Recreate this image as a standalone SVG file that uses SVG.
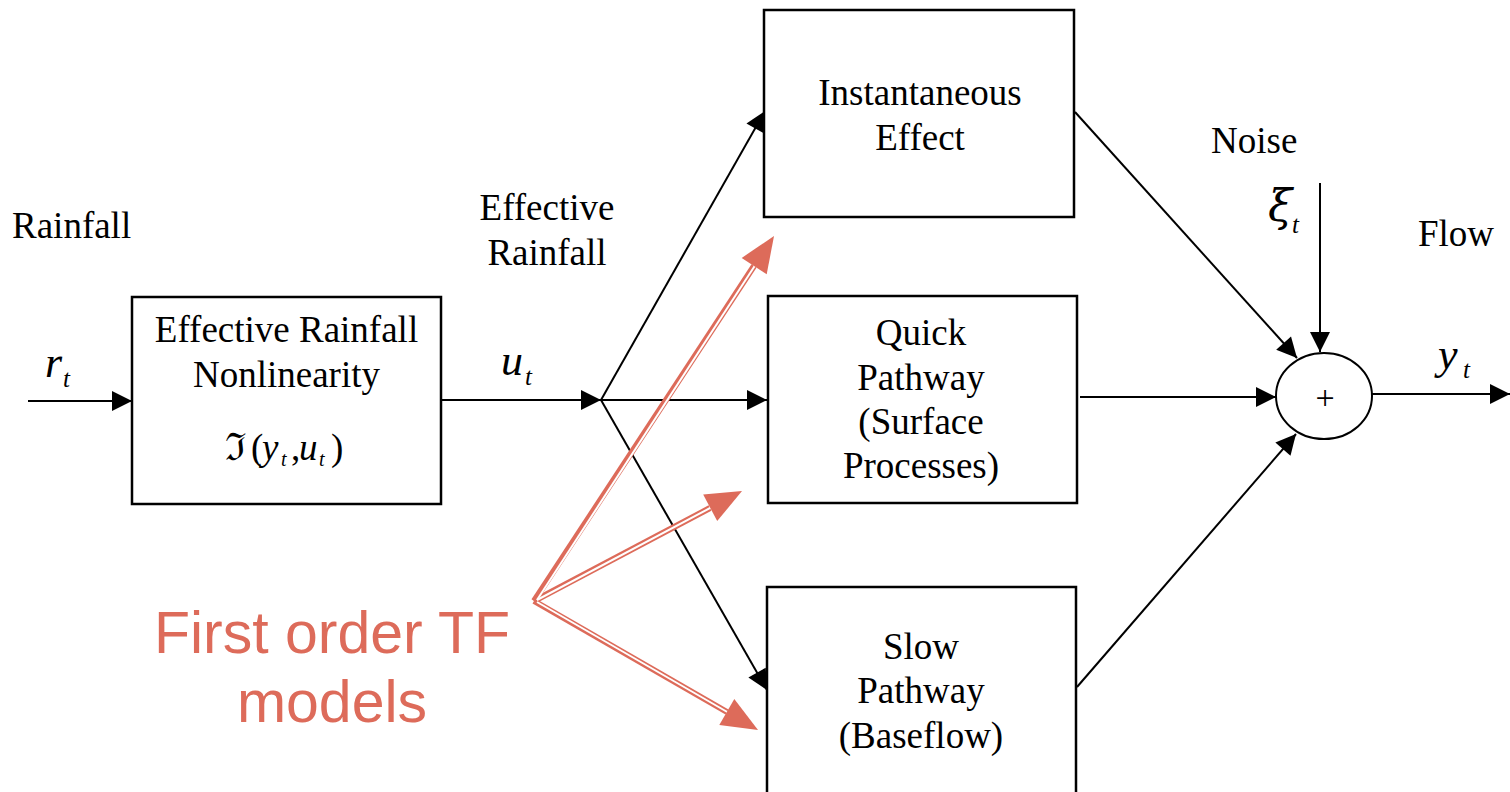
<svg xmlns="http://www.w3.org/2000/svg" width="1510" height="792" viewBox="0 0 1510 792">
<defs>
<marker id="ah" markerUnits="userSpaceOnUse" markerWidth="20" markerHeight="20" refX="20" refY="10" orient="auto" overflow="visible">
<path d="M0,0 L20,10 L0,20 z" fill="#000"/>
</marker>
<style>
.box{fill:#fff;stroke:#000;stroke-width:2.5}
.ln{stroke:#000;stroke-width:2;fill:none}
.ar{marker-end:url(#ah)}
.t{font-family:"Liberation Serif","Times New Roman",serif;font-size:37px;fill:#000}
.c{text-anchor:middle}
.it{font-style:italic}
.var{font-style:italic;font-size:44px}
.sub{font-size:25px;font-style:italic}
.ssub{font-size:20px;font-style:italic}
.red{font-family:"Liberation Sans",Arial,sans-serif;font-size:59px;fill:#dd6b5a;text-anchor:middle}
.ro{stroke:#dd6b5a;stroke-width:6;fill:none}
.ri{stroke:#fff;stroke-width:2;fill:none}
.rh{fill:#dd6b5a}
</style>
</defs>
<rect width="1510" height="792" fill="#fff"/>

<g id="connectors">
<line class="ln ar" x1="28" y1="401" x2="132" y2="401"/>
<line class="ln ar" x1="441" y1="400" x2="601" y2="400"/>
<line class="ln ar" x1="601" y1="400" x2="765" y2="111"/>
<line class="ln ar" x1="601" y1="400" x2="767" y2="400"/>
<line class="ln ar" x1="601" y1="400" x2="767" y2="690"/>
<line class="ln ar" x1="1075" y1="112" x2="1297" y2="358"/>
<line class="ln ar" x1="1080" y1="397" x2="1276" y2="397"/>
<line class="ln ar" x1="1077" y1="687" x2="1296" y2="434"/>
<line class="ln ar" x1="1320" y1="183" x2="1320" y2="352"/>
<line class="ln ar" x1="1372" y1="394" x2="1510" y2="394"/>
</g>

<g id="labels">
<text class="t" x="12" y="238">Rainfall</text>
<text class="t c" x="547" y="220">Effective</text>
<text class="t c" x="547" y="265">Rainfall</text>
<text class="t" x="1211" y="153">Noise</text>
<text class="t" x="1418" y="246">Flow</text>
<text class="t var" x="45" y="377">r</text>
<text class="t sub" x="63" y="387">t</text>
<text class="t var" x="501" y="375">u</text>
<text class="t sub" x="525" y="385">t</text>
<text class="t var" x="1438" y="369">y</text>
<text class="t sub" x="1463" y="378">t</text>
<text x="1268" y="221" font-family="DejaVu Serif, serif" font-style="italic" font-size="44">ξ</text>
<text class="t sub" x="1292" y="233">t</text>
</g>

<g id="node-nonlinearity">
<rect class="box" x="132" y="297" width="309" height="207"/>
<text class="t c" x="286.5" y="342">Effective Rainfall</text>
<text class="t c" x="286.5" y="387">Nonlinearity</text>
<text x="225" y="460" font-family="DejaVu Serif, serif" font-size="38">ℑ</text>
<text class="t" x="251" y="460" font-size="35">(</text>
<text class="t it" x="262" y="460" font-size="35">y</text>
<text class="t ssub" x="281" y="466">t</text>
<text class="t" x="291" y="460" font-size="35">,</text>
<text class="t it" x="299" y="460" font-size="35">u</text>
<text class="t ssub" x="319" y="466">t</text>
<text class="t" x="331" y="460" font-size="35">)</text>
</g>

<g id="node-instantaneous">
<rect class="box" x="764" y="10" width="310" height="207"/>
<text class="t c" x="920" y="105">Instantaneous</text>
<text class="t c" x="920" y="150">Effect</text>
</g>

<g id="node-quick">
<rect class="box" x="768" y="296" width="309" height="207"/>
<text class="t c" x="921" y="345">Quick</text>
<text class="t c" x="921" y="390">Pathway</text>
<text class="t c" x="921" y="434">(Surface</text>
<text class="t c" x="921" y="478">Processes)</text>
</g>

<g id="node-slow">
<rect class="box" x="767" y="587" width="309" height="215"/>
<text class="t c" x="921" y="659">Slow</text>
<text class="t c" x="921" y="703">Pathway</text>
<text class="t c" x="921" y="748">(Baseflow)</text>
</g>

<g id="node-sum">
<ellipse cx="1324" cy="396" rx="48" ry="43" fill="#fff" stroke="#000" stroke-width="2"/>
<text x="1325" y="409" text-anchor="middle" font-family="Liberation Serif, serif" font-size="34">+</text>
</g>

<g id="annotation">
<text class="red" x="332" y="653">First order TF</text>
<text class="red" x="332" y="722">models</text>
<g id="red-arrows">
<line class="ro" x1="534" y1="601" x2="754" y2="266"/>
<line class="ro" x1="534" y1="601" x2="710" y2="508"/>
<line class="ro" x1="534" y1="601" x2="727" y2="712"/>
<line class="ri" x1="537" y1="600" x2="756" y2="264"/>
<line class="ri" x1="537" y1="600" x2="712" y2="507"/>
<line class="ri" x1="537" y1="602" x2="729" y2="713"/>
<polygon class="rh" points="774,236 766.7,274.3 741.7,257.9"/>
<polygon class="rh" points="742,491 717.2,521.1 703.2,494.5"/>
<polygon class="rh" points="758,730 719.3,725 734.3,699"/>
</g>
</g>
</svg>
